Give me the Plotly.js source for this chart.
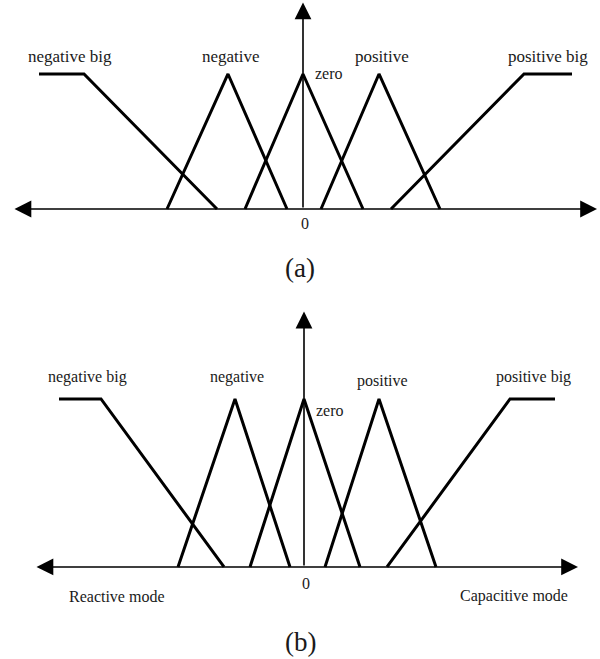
<!DOCTYPE html>
<html>
<head>
<meta charset="utf-8">
<script src="https://cdn.plot.ly/plotly-3.0.1.min.js"></script>
<style>
  html, body { margin: 0; padding: 0; background: #ffffff; }
  #chart { width: 600px; height: 659px; }
</style>
</head>
<body>
<div id="chart"></div>
<script>
// Fuzzy membership functions: breakpoints (x) and membership grades (mu).
// Panel (a)
const labelsA = ["negative big", "negative", "zero", "positive", "positive big"];
const nbA_x = [-2.64, -2.19, -0.86];  const nbA_mu = [1, 1, 0];
const nA_x  = [-1.36, -0.75, -0.16];  const nA_mu  = [0, 1, 0];
const zA_x  = [-0.58, 0.00, 0.60];    const zA_mu  = [0, 1, 0];
const pA_x  = [0.18, 0.76, 1.37];     const pA_mu  = [0, 1, 0];
const pbA_x = [0.88, 2.21, 2.69];     const pbA_mu = [0, 1, 1];
const axisA_x = [-2.90, 2.94];        // horizontal axis extent
const axisA_top = 1.53;               // vertical axis extent

// Panel (b)
const labelsB = ["negative big", "negative", "zero", "positive", "positive big"];
const nbB_x = [-2.45, -2.03, -0.80];  const nbB_mu = [1, 1, 0];
const nB_x  = [-1.26, -0.69, -0.14];  const nB_mu  = [0, 1, 0];
const zB_x  = [-0.54, 0.00, 0.56];    const zB_mu  = [0, 1, 0];
const pB_x  = [0.21, 0.75, 1.32];     const pB_mu  = [0, 1, 0];
const pbB_x = [0.83, 2.06, 2.51];     const pbB_mu = [0, 1, 1];
const axisB_x = [-2.69, 2.74];
const axisB_top = 1.52;
const modeLabels = ["Reactive mode", "Capacitive mode"];
const captions = ["(a)", "(b)"];

const lineStyle = { color: "#000000", width: 3 };
const serif = "Liberation Serif, Times New Roman, serif";
const textColor = "#1a1a1a";

function mf(x, y, xa, ya) {
  return { type: "scatter", mode: "lines", x: x, y: y, xaxis: xa, yaxis: ya,
           line: lineStyle, cliponaxis: false, hoverinfo: "skip", showlegend: false };
}

const traces = [
  mf(nbA_x, nbA_mu, "x", "y"), mf(nA_x, nA_mu, "x", "y"), mf(zA_x, zA_mu, "x", "y"),
  mf(pA_x, pA_mu, "x", "y"), mf(pbA_x, pbA_mu, "x", "y"),
  mf(nbB_x, nbB_mu, "x2", "y2"), mf(nB_x, nB_mu, "x2", "y2"), mf(zB_x, zB_mu, "x2", "y2"),
  mf(pB_x, pB_mu, "x2", "y2"), mf(pbB_x, pbB_mu, "x2", "y2")
];

function arrow(xr, yr, x, y, ax, ay, both) {
  return { xref: xr, yref: yr, axref: xr, ayref: yr, x: x, y: y, ax: ax, ay: ay,
           text: "", showarrow: true, arrowhead: 2, arrowsize: 2.1, arrowwidth: 1.6,
           arrowcolor: "#000000", arrowside: both ? "end+start" : "end" };
}

function label(xr, yr, x, y, txt, size) {
  return { xref: xr, yref: yr, x: x, y: y, text: txt, showarrow: false,
           font: { family: serif, size: size || 16, color: textColor },
           xanchor: "center", yanchor: "middle" };
}

const annotations = [
  // axes of panel (a)
  arrow("x", "y", axisA_x[1], 0, axisA_x[0], 0, true),
  arrow("x", "y", 0, axisA_top, 0, 0, false),
  // axes of panel (b)
  arrow("x2", "y2", axisB_x[1], 0, axisB_x[0], 0, true),
  arrow("x2", "y2", 0, axisB_top, 0, 0, false),

  // panel (a) labels
  label("x", "y", -2.33, 1.126, labelsA[0], 17),
  label("x", "y", -0.72, 1.126, labelsA[1], 17),
  label("x", "y", 0.26, 1.0, labelsA[2], 16),
  label("x", "y", 0.79, 1.126, labelsA[3], 17),
  label("x", "y", 2.45, 1.126, labelsA[4], 17),
  label("x", "y", 0.02, -0.104, "0", 16),

  // panel (b) labels
  label("x2", "y2", -2.17, 1.131, labelsB[0]),
  label("x2", "y2", -0.67, 1.131, labelsB[1]),
  label("x2", "y2", 0.26, 0.929, labelsB[2]),
  label("x2", "y2", 0.78, 1.107, labelsB[3]),
  label("x2", "y2", 2.29, 1.131, labelsB[4]),
  label("x2", "y2", 0.02, -0.10, "0"),
  label("x2", "y2", -1.87, -0.173, modeLabels[0]),
  label("x2", "y2", 2.10, -0.173, modeLabels[1]),

  // captions
  label("paper", "paper", 0.5, 1 - 268 / 659, captions[0], 27),
  label("paper", "paper", 0.5, 1 - 642 / 659, captions[1], 27)
];

const hidden = { showgrid: false, zeroline: false, showline: false, showticklabels: false,
                 ticks: "", fixedrange: true };

const layout = {
  width: 600, height: 659,
  margin: { l: 0, r: 0, t: 0, b: 0 },
  paper_bgcolor: "#ffffff", plot_bgcolor: "rgba(0,0,0,0)",
  showlegend: false,
  xaxis:  Object.assign({}, hidden, { domain: [0, 1], range: [-3.03, 2.97], anchor: "y" }),
  yaxis:  Object.assign({}, hidden, { domain: [1 - 300 / 659, 1], range: [-0.674, 1.548], anchor: "x" }),
  xaxis2: Object.assign({}, hidden, { domain: [0, 1], range: [-3.04, 2.96], anchor: "y2" }),
  yaxis2: Object.assign({}, hidden, { domain: [0, 1 - 300 / 659], range: [-0.548, 1.589], anchor: "x2" }),
  annotations: annotations
};

Plotly.newPlot("chart", traces, layout, { staticPlot: true, displayModeBar: false });
</script>
</body>
</html>
